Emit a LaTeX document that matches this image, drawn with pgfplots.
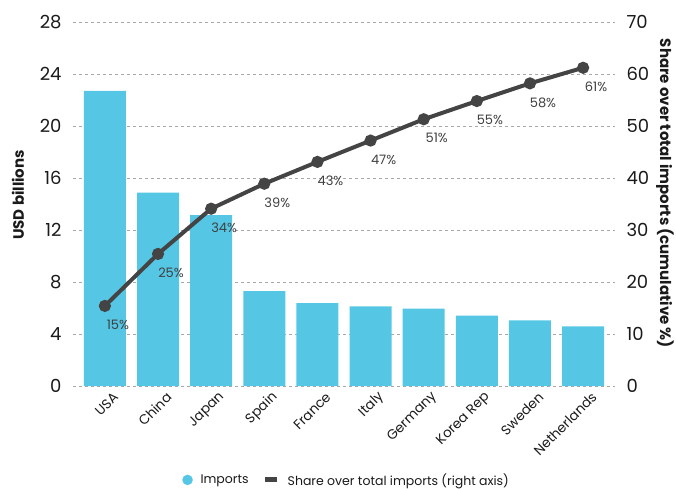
\documentclass[border=0pt]{standalone}
\usepackage{fontspec}
\setmainfont{Poppins}
\usepackage{pgfplots}
\pgfplotsset{compat=1.18}
\definecolor{barblue}{HTML}{55C7E5}
\definecolor{linegray}{HTML}{444444}
\definecolor{gridgray}{HTML}{A8A8A8}
\definecolor{txt}{HTML}{1A1A1A}
\definecolor{lbl}{HTML}{404040}
\begin{document}
\begin{tikzpicture}
\path[use as bounding box] (0pt,0pt) rectangle (676pt,488pt);
\begin{axis}[
  at={(73pt,102pt)}, anchor=south west,
  scale only axis, width=542pt, height=364pt,
  xmin=-0.6, xmax=9.6, ymin=0, ymax=28,
  ytick={0,4,...,28},
  xtick={0,...,9},
  xticklabels={USA,China,Japan,Spain,France,Italy,Germany,Korea Rep,Sweden,Netherlands},
  axis line style={draw=none}, major tick length=0pt,
  ymajorgrids, grid style={dashed, gridgray, line width=0.6pt},
  /pgf/number format/assume math mode=true,
  yticklabel style={font=\fontsize{18}{20}\selectfont, text=txt, xshift=-8pt},
  xticklabel style={font=\fontsize{13.5}{15}\selectfont, text=txt, rotate=45, anchor=east, xshift=5pt, yshift=-14pt},
  ylabel={\textbf{USD billions}},
  ylabel style={at={(axis description cs:-0.1015,0.525)}, anchor=center, font=\fontsize{15}{17}\selectfont, text=txt},
]
\addplot[ybar, bar width=42pt, bar shift=0pt, fill=barblue, draw=none] coordinates {
(0,22.7) (1,14.87) (2,13.15) (3,7.3) (4,6.38) (5,6.13) (6,5.95) (7,5.41) (8,5.05) (9,4.59)};
\end{axis}
\begin{axis}[
  at={(73pt,102pt)}, anchor=south west,
  scale only axis, width=542pt, height=364pt,
  xmin=-0.6, xmax=9.6, ymin=0, ymax=70,
  ytick={0,10,...,70},
  axis y line*=right, hide x axis,
  axis line style={draw=none}, major tick length=0pt,
  /pgf/number format/assume math mode=true,
  yticklabel style={font=\fontsize{18}{20}\selectfont, text=txt, xshift=8pt},
  ylabel={\textbf{Share over total imports (cumulative \%)}},
  ylabel style={at={(axis description cs:1.0923,0.529)}, anchor=center, rotate=180, font=\fontsize{15}{17}\selectfont, text=txt},
  legend style={draw=none, at={(0.505,-0.258)}, anchor=center, font=\fontsize{12.5}{14}\selectfont, text=txt,
    /tikz/every even column/.append style={column sep=12pt},
    /tikz/every odd column/.append style={column sep=6pt}},
  legend columns=2,
]
\addlegendimage{only marks, mark=*, mark size=5pt, barblue}
\addlegendentry{Imports}
\addplot[linegray, line width=4pt, mark=*, mark size=4pt,
  legend image code/.code={\draw[linegray, line width=5pt] (0pt,0pt) -- (12pt,0pt);},
  point meta=explicit,
  nodes near coords={\pgfmathprintnumber[precision=0]{\pgfplotspointmeta}\%},
  every node near coord/.append style={anchor=center, xshift=13pt, yshift=-19pt, text=lbl, font=\fontsize{13}{15}\selectfont}]
  table[x=x, y=y, meta=p] {
x y p
0 15.4 15
1 25.4 25
2 34.1 34
3 38.9 39
4 43.1 43
5 47.2 47
6 51.3 51
7 54.8 55
8 58.2 58
9 61.2 61
};
\addlegendentry{Share over total imports (right axis)}
\end{axis}
\end{tikzpicture}
\end{document}
